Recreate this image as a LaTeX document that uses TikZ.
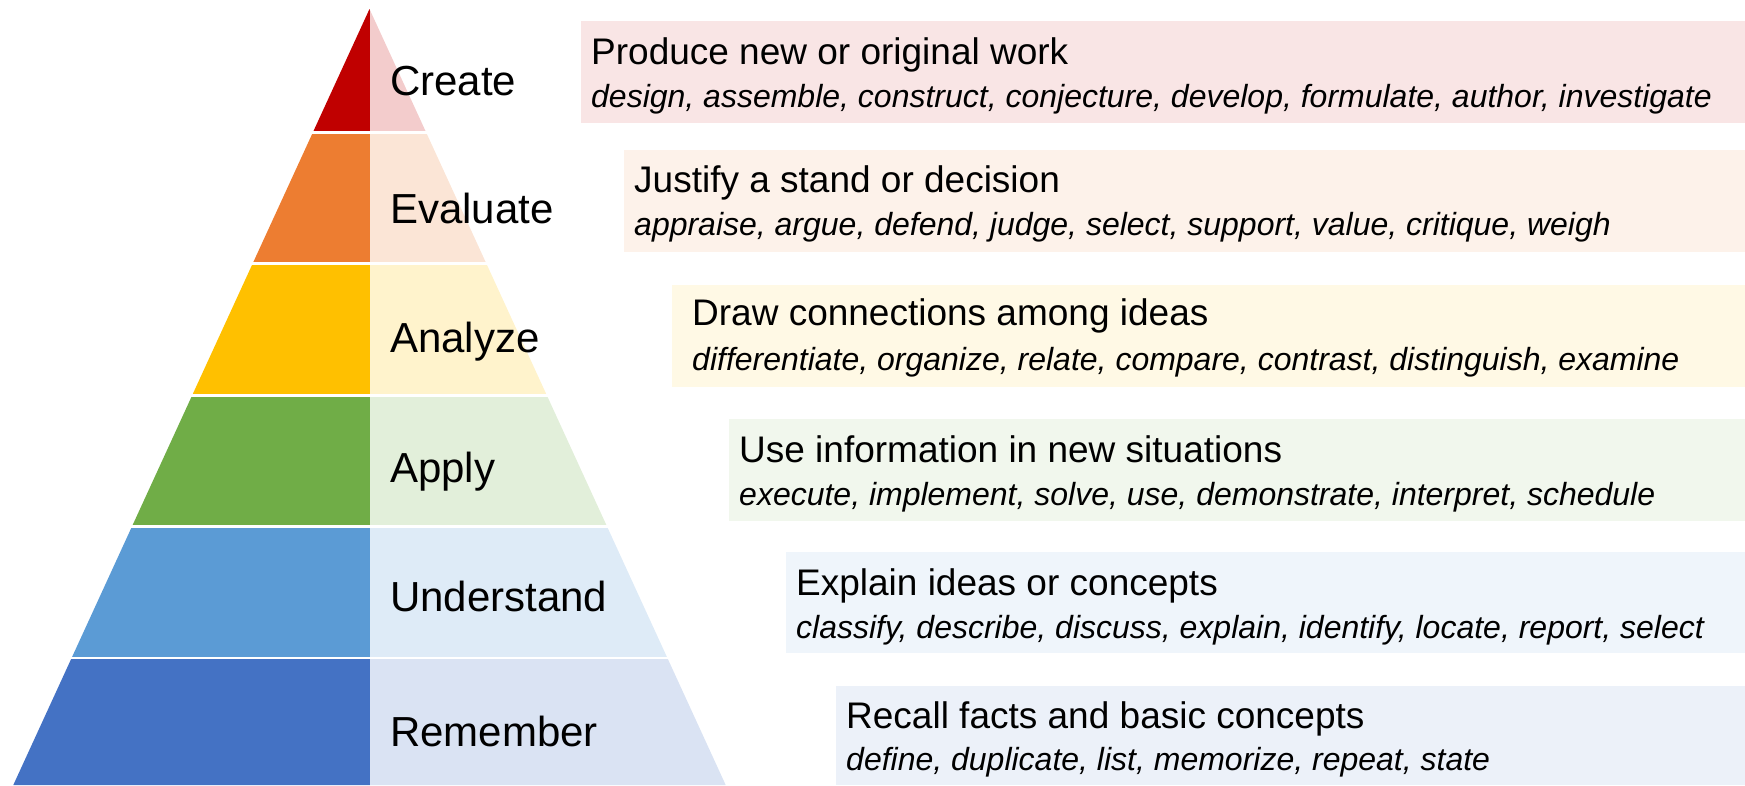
\documentclass[tikz,border=0pt]{standalone}
\usepackage{fontspec}
\setmainfont{Liberation Sans}
\definecolor{cCreate}{HTML}{C00000}
\definecolor{cEval}{HTML}{ED7D31}
\definecolor{cAnal}{HTML}{FFC000}
\definecolor{cApply}{HTML}{70AD47}
\definecolor{cUnder}{HTML}{5B9BD5}
\definecolor{cRemem}{HTML}{4472C4}
\tikzset{
  lvl/.style={anchor=base west, inner sep=0pt, font=\fontsize{42}{46}\selectfont},
  ttl/.style={anchor=base west, inner sep=0pt, font=\fontsize{37}{40}\selectfont},
  verbs/.style={anchor=base west, inner sep=0pt, font=\fontsize{32}{36}\selectfont\itshape},
}
\begin{document}
\begin{tikzpicture}[x=1pt,y=-1pt]
\useasboundingbox (0,0) rectangle (1745,785);
% pyramid
\begin{scope}
\clip (369.5,9) -- (13.3,785) -- (725.7,785) -- cycle;
\foreach \t/\b/\c in {0/131/cCreate, 134/262/cEval, 265/394/cAnal, 397/525/cApply, 528/657/cUnder, 659/790/cRemem}{
  \fill[\c] (0,\t) rectangle (369.5,\b);
  \fill[\c!20] (369.5,\t) rectangle (760,\b);
}
\end{scope}
% level labels
\node[lvl] (lc) at (390,95) {Create};
\node[lvl] (le) at (390,223) {Evaluate};
\node[lvl] (la) at (390,352) {Analyze};
\node[lvl] (lp) at (390,482) {Apply};
\node[lvl] (lu) at (390,611) {Understand};
\node[lvl] (lr) at (390,746) {Remember};
% boxes
\fill[cCreate!10] (581,21) rectangle (1745,123);
\fill[cEval!10] (624,150) rectangle (1745,252);
\fill[cAnal!10] (672,285) rectangle (1745,387);
\fill[cApply!10] (729,419) rectangle (1745,521);
\fill[cUnder!10] (786,552) rectangle (1745,653);
\fill[cRemem!10] (836,686) rectangle (1745,785);
% box texts
\node[ttl] (tc) at (591,64) {Produce new or original work};
\node[verbs] (vc) at (591,107) {design, assemble, construct, conjecture, develop, formulate, author, investigate};
\node[ttl] (te) at (634,192) {Justify a stand or decision};
\node[verbs] (ve) at (634,235) {appraise, argue, defend, judge, select, support, value, critique, weigh};
\node[ttl] (ta) at (692,325) {Draw connections among ideas};
\node[verbs] (va) at (692,370) {differentiate, organize, relate, compare, contrast, distinguish, examine};
\node[ttl] (tp) at (739,462) {Use information in new situations};
\node[verbs] (vp) at (739,505) {execute, implement, solve, use, demonstrate, interpret, schedule};
\node[ttl] (tu) at (796,595) {Explain ideas or concepts};
\node[verbs] (vu) at (796,638) {classify, describe, discuss, explain, identify, locate, report, select};
\node[ttl] (tr) at (846,728) {Recall facts and basic concepts};
\node[verbs] (vr) at (846,770) {define, duplicate, list, memorize, repeat, state};
\end{tikzpicture}
\end{document}
